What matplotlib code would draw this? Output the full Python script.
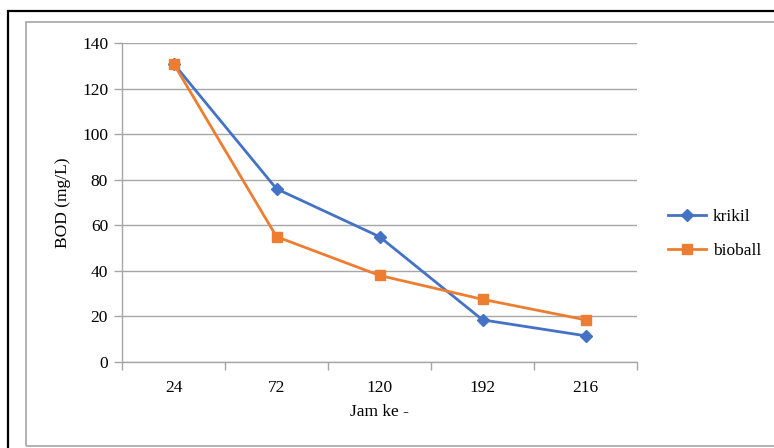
import matplotlib.pyplot as plt
from matplotlib.patches import Rectangle

# data
jam = ["24", "72", "120", "192", "216"]
krikil = [131, 76, 55, 18.5, 11.5]
bioball = [131, 55, 38, 27.5, 18.5]

plt.rcParams['font.family'] = ['Liberation Serif', 'DejaVu Serif']

W, H = 774, 448
fig = plt.figure(figsize=(W / 100, H / 100), dpi=100)

# frames around the chart
fig.patches.append(Rectangle((8 / W, -0.1), 1.2, (H - 11) / H + 0.1, transform=fig.transFigure,
                             fill=False, edgecolor='black', linewidth=1.6))
fig.patches.append(Rectangle((26 / W, 2 / H), 1.2, (H - 24) / H, transform=fig.transFigure,
                             fill=False, edgecolor='#a6a6a6', linewidth=1.2))

left, right, top, bottom = 122, 637, 43, 362
ax = fig.add_axes([left / W, 1 - bottom / H, (right - left) / W, (bottom - top) / H])

x = list(range(len(jam)))
ax.plot(x, krikil, color='#4472C4', linewidth=2, marker='D', markersize=6, label='krikil')
ax.plot(x, bioball, color='#ED7D31', linewidth=2, marker='s', markersize=7.5, label='bioball')

ax.set_xlim(-0.5, len(jam) - 0.5)
ax.set_ylim(0, 140)
ax.set_yticks(range(0, 141, 20))
ax.set_xticks(x)
ax.set_xticklabels(jam)
ax.set_xticks([i - 0.5 for i in range(len(jam) + 1)], minor=True)
ax.tick_params(axis='x', which='major', length=0, pad=13, labelsize=12.5)
ax.tick_params(axis='x', which='minor', length=6, color='#a6a6a6', width=1)
ax.tick_params(axis='y', length=6, color='#a6a6a6', width=1, labelsize=12.5, pad=4)

ax.grid(axis='y', color='#a6a6a6', linewidth=1)
ax.set_axisbelow(True)
for s in ['top', 'right']:
    ax.spines[s].set_visible(False)
for s in ['left', 'bottom']:
    ax.spines[s].set_color('#a6a6a6')
    ax.spines[s].set_linewidth(1)

ax.set_xlabel('Jam ke -', fontsize=12.5, labelpad=6)
ax.set_ylabel('BOD (mg/L)', fontsize=12.5, labelpad=8)

fig.legend(loc='center left', bbox_to_anchor=(652 / W, 1 - 234 / H), frameon=False,
           fontsize=12.5, handlelength=2.2, labelspacing=1.0, handletextpad=0.4)

fig.savefig('out.png', dpi=100)
